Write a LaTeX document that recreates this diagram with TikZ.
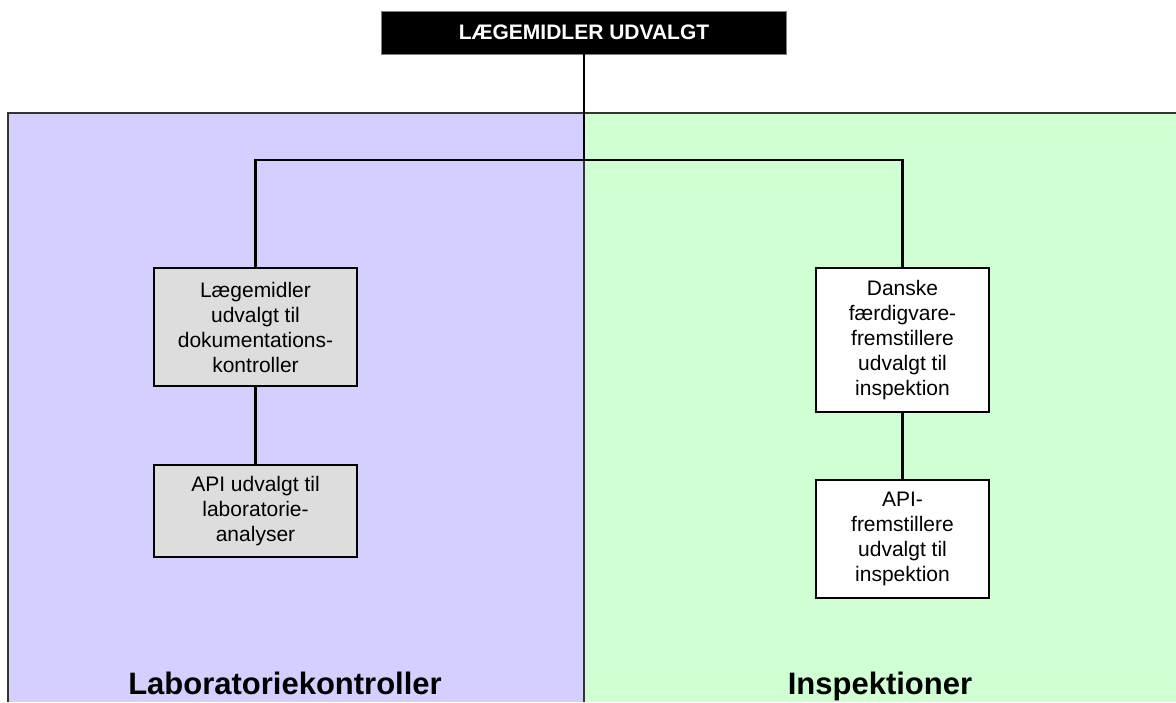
\documentclass[tikz,border=0pt]{standalone}
\usepackage{fontspec}
\setmainfont{Liberation Sans}
\usetikzlibrary{positioning}
\definecolor{labfarve}{RGB}{211,208,255}
\definecolor{inspfarve}{RGB}{208,255,211}
\definecolor{kassegraa}{RGB}{221,221,221}

\begin{document}
\begin{tikzpicture}[x=1pt,y=-1pt,every node/.style={align=center,inner sep=0pt,font=\fontsize{21}{25}\selectfont},
  kasse/.style={draw,line width=2.2pt},
  forbind/.style={line width=2.2pt},
  felt/.style={font=\fontsize{31}{37}\selectfont\bfseries,anchor=base}]
\useasboundingbox (0,0) rectangle (1176,702);
% baggrund
\fill[labfarve] (8,113) rectangle (584,702);
\fill[inspfarve] (584,113) rectangle (1176,702);
\draw[black!80,line width=1.5pt] (8,702) -- (8,113) -- (1176,113);
\draw[black!80,line width=1.5pt] (584,113) -- (584,702);
\node[felt] (labtitel) at (285,694) {Laboratoriekontroller};
\node[felt] (insptitel) at (880,694) {Inspektioner};
% kasser
\node[fill=black,draw=gray,line width=0.8pt,text=white,font=\fontsize{21}{25}\selectfont\bfseries,
  minimum width=405pt,minimum height=43pt] (top) at (584,32.5) {LÆGEMIDLER UDVALGT};
\coordinate (midt) at (584,160);
\node[kasse,fill=kassegraa,minimum width=203pt,minimum height=118pt] (dok) at (255.5,327)
  {Lægemidler\\udvalgt til\\dokumentations-\\kontroller};
\node[kasse,fill=kassegraa,minimum width=203pt,minimum height=92pt] (api) at (255.5,511)
  {API udvalgt til\\laboratorie-\\analyser};
\node[kasse,fill=white,minimum width=173pt,minimum height=144pt] (dansk) at (902.5,340)
  {Danske\\færdigvare-\\fremstillere\\udvalgt til\\inspektion};
\node[kasse,fill=white,minimum width=173pt,minimum height=118pt] (apifrem) at (902.5,539)
  {API-\\fremstillere\\udvalgt til\\inspektion};
% linjer
\draw[forbind] (top) -- (midt);
\draw[forbind] (midt) -| (dok);
\draw[forbind] (midt) -| (dansk);
\draw[forbind] (dok) -- (api);
\draw[forbind] (dansk) -- (apifrem);
\end{tikzpicture}
\end{document}
